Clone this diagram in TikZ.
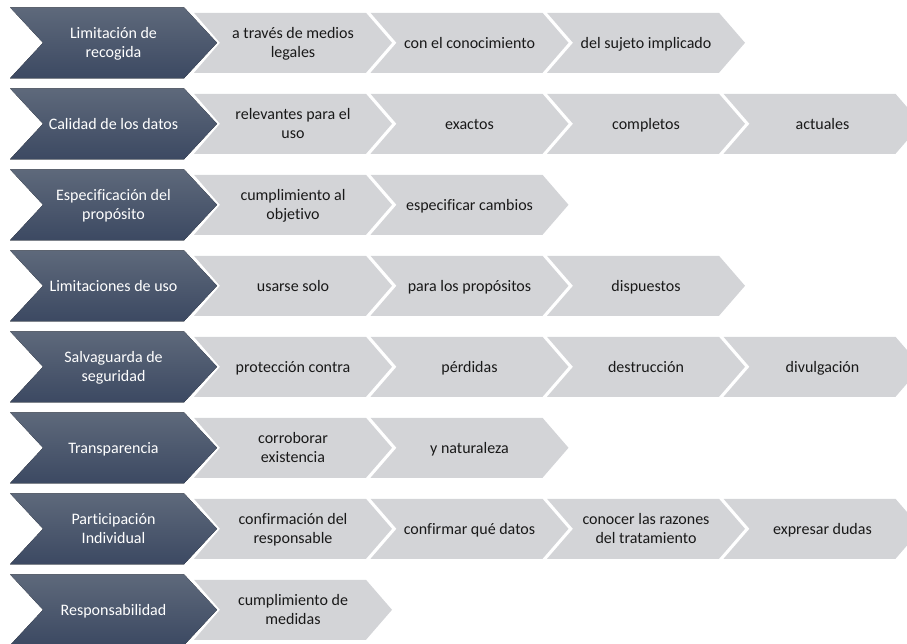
\documentclass[tikz,border=0pt]{standalone}
\usepackage{fontspec}
\setmainfont{Carlito}[Ligatures=NoCommon]
\usetikzlibrary{math}
\definecolor{qnavy}{RGB}{60,73,98}
\definecolor{qnavytop}{RGB}{94,105,123}
\definecolor{qgrey}{RGB}{211,212,215}
\definecolor{qink}{RGB}{25,25,25}

% dark heading chevron: row, name, text
\newcommand{\headchev}[3]{%
 \tikzmath{\ym=42.8+(#1-1)*\rowp;}
 \fill[headfill] (10,\ym-\headh) -- (184,\ym-\headh) -- (184+\headd,\ym)
   -- (184,\ym+\headh) -- (10,\ym+\headh) -- (10+\headd,\ym) -- cycle;
 \node[headtxt] (#2) at (113.5,\ym) {#3};
}
% grey step chevron: row, slot, name, text
\newcommand{\stepchev}[4]{%
 \tikzmath{\ym=42.8+(#1-1)*\rowp; \xl=\stepx+(#2-1)*\stepp; \xr=\xl+\stepw;}
 \fill[stepfill] (\xl,\ym-\steph) -- (\xr,\ym-\steph) -- (\xr+\stepd,\ym)
   -- (\xr,\ym+\steph) -- (\xl,\ym+\steph) -- (\xl+\stepd,\ym) -- cycle;
 \node[steptxt] (#3) at ({\xl+(\stepw+\stepd)/2},\ym) {#4};
}

\begin{document}
\begin{tikzpicture}[x=1pt,y=-1pt,
  headfill/.style={top color=qnavytop,bottom color=qnavy,draw=none},
  stepfill/.style={fill=qgrey},
  chevtxt/.style={align=center,inner sep=0pt,text depth=0pt,
    execute at begin node={\rule{0pt}{12pt}},
    font=\fontsize{16}{19}\selectfont},
  headtxt/.style={chevtxt,text=white},
  steptxt/.style={chevtxt,text=qink}]
\tikzmath{
\rowp=81;
\headh=35.5;
\headd=33;
\steph=30;
\stepd=26;
\stepw=172;
\stepp=176.5;
\stepx=194;
}
\useasboundingbox (0,0) rectangle (907,644);
\clip (0,0) rectangle (907,644);

%rows:
 \headchev{1}{h1}{Limitación de\\recogida}
 \foreach \txt [count=\k] in {{a través de medios\\legales},{con el conocimiento},{del sujeto implicado}}
  \stepchev{1}{\k}{s1-\k}{\txt};

 \headchev{2}{h2}{Calidad de los datos}
 \foreach \txt [count=\k] in {{relevantes para el\\uso},{exactos},{completos},{actuales}}
  \stepchev{2}{\k}{s2-\k}{\txt};

 \headchev{3}{h3}{Especificación del\\propósito}
 \foreach \txt [count=\k] in {{cumplimiento al\\objetivo},{especificar cambios}}
  \stepchev{3}{\k}{s3-\k}{\txt};

 \headchev{4}{h4}{Limitaciones de uso}
 \foreach \txt [count=\k] in {{usarse solo},{para los propósitos},{dispuestos}}
  \stepchev{4}{\k}{s4-\k}{\txt};

 \headchev{5}{h5}{Salvaguarda de\\seguridad}
 \foreach \txt [count=\k] in {{protección contra},{pérdidas},{destrucción},{divulgación}}
  \stepchev{5}{\k}{s5-\k}{\txt};

 \headchev{6}{h6}{Transparencia}
 \foreach \txt [count=\k] in {{corroborar\\existencia},{y naturaleza}}
  \stepchev{6}{\k}{s6-\k}{\txt};

 \headchev{7}{h7}{Participación\\Individual}
 \foreach \txt [count=\k] in {{confirmación del\\responsable},{confirmar qué datos},{conocer las razones\\del tratamiento},{expresar dudas}}
  \stepchev{7}{\k}{s7-\k}{\txt};

 \headchev{8}{h8}{Responsabilidad}
 \foreach \txt [count=\k] in {{cumplimiento de\\medidas}}
  \stepchev{8}{\k}{s8-\k}{\txt};
\end{tikzpicture}
\end{document}
